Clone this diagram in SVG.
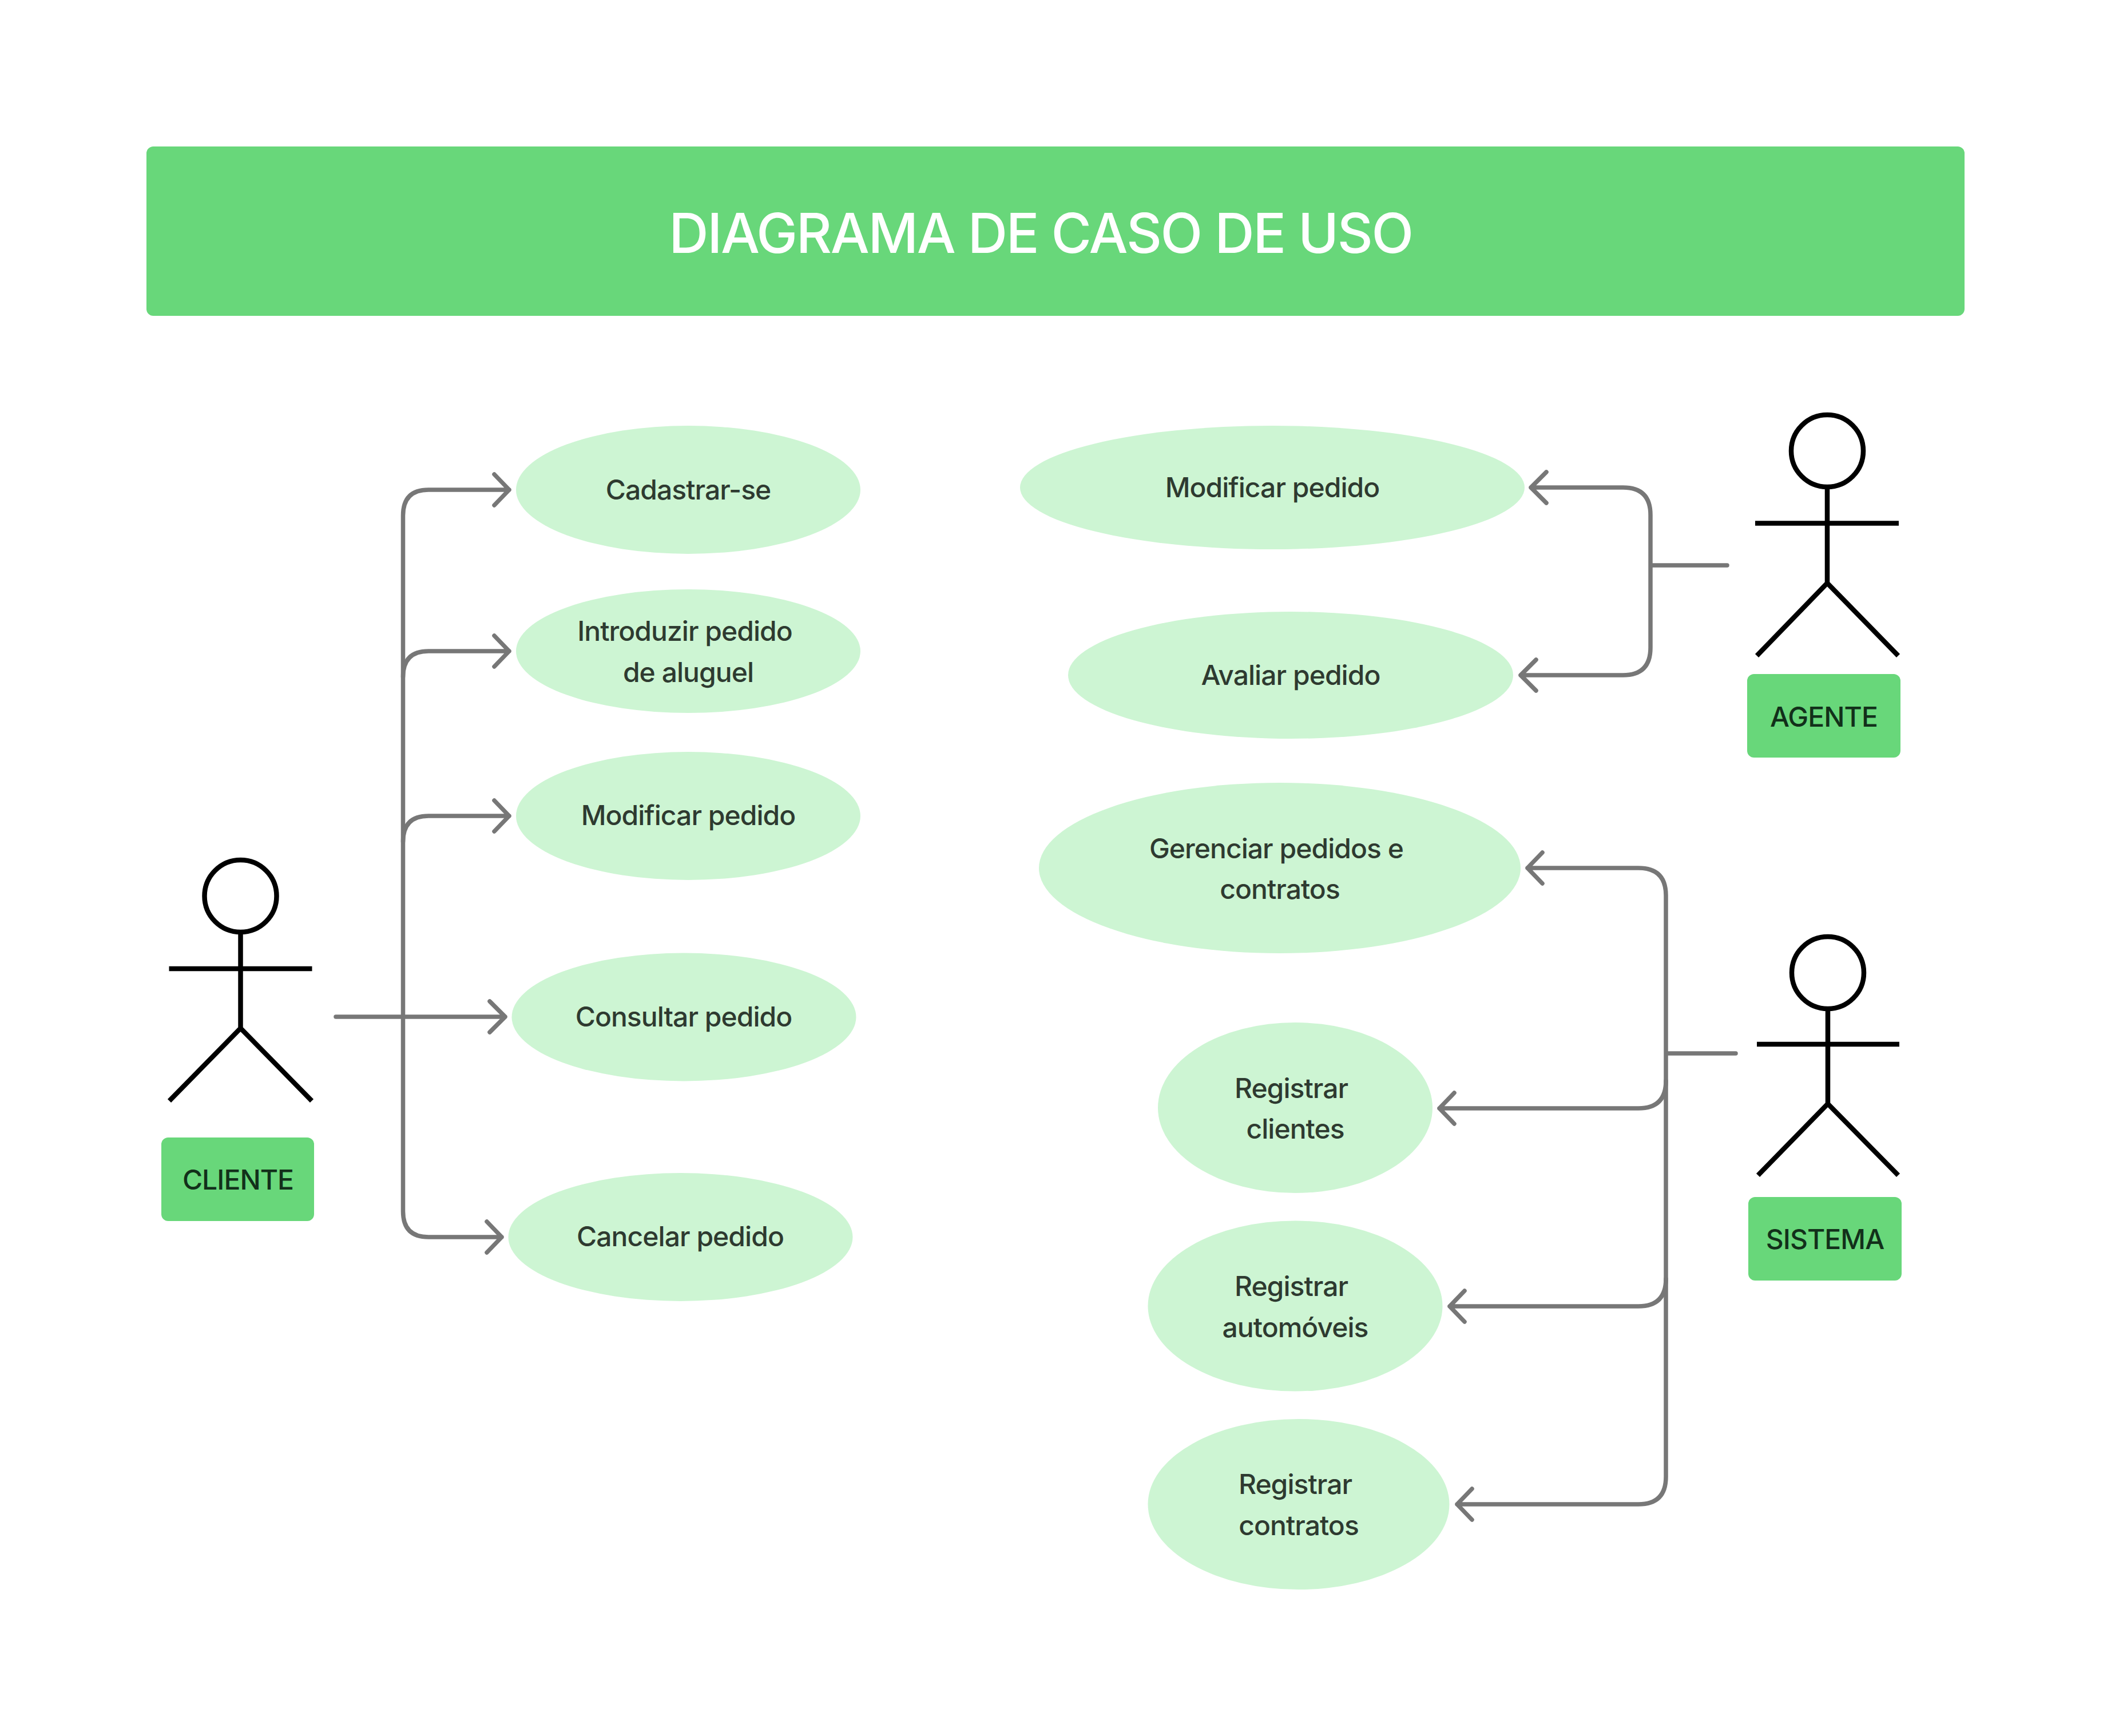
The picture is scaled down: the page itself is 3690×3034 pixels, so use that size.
<svg xmlns="http://www.w3.org/2000/svg" width="3690" height="3034" viewBox="0 0 3690 3034">
<style>
text{font-family:Inter,"Liberation Sans",sans-serif;text-anchor:middle;letter-spacing:-.02em;font-weight:500}
.u{fill:#cdf5d3}
.t{font-size:48px;fill:#2e3a30}
.lb{fill:#68d77a}
.lt{font-size:48px;fill:#12301a}
.h{fill:#fff;stroke:#000;stroke-width:8.500}
.b{fill:none;stroke:#000;stroke-width:8.500;stroke-linejoin:miter}
.c{fill:none;stroke:#777;stroke-width:7.500;stroke-linecap:round;stroke-linejoin:round}
</style>
<rect width="3690" height="3034" fill="#fff"/>
<g id="title"><rect class="lb" x="256" y="256" width="3178" height="296" rx="12"/><text x="1819" y="442" font-size="96" fill="#fff" style="letter-spacing:-.024em">DIAGRAMA DE CASO DE USO</text></g>
<g id="connectors">
<path class="c" d="M587 1777H883M856 1750L883 1777L856 1804"/>
<path class="c" d="M704.500 1777V901Q704.500 856 749 856H890M864 829L890 856L864 883"/>
<path class="c" d="M704.500 1183Q704.500 1138 749 1138H890M864 1111L890 1138L864 1165"/>
<path class="c" d="M704.500 1471Q704.500 1426 749 1426H890M864 1399L890 1426L864 1453"/>
<path class="c" d="M704.500 1777V2117Q704.500 2162 749 2162H877M851 2135L877 2162L851 2189"/>
<path class="c" d="M3019 988H2885M2676 852H2837Q2885 852 2885 900V1132Q2885 1180 2837 1180H2658M2703 825L2676 852L2703 879M2685 1153L2658 1180L2685 1207"/>
<path class="c" d="M3034 1841H2912M2670 1517H2864Q2912 1517 2912 1565V2581Q2912 2629 2864 2629H2547M2696 1490L2670 1517L2696 1544M2573 2602L2547 2629L2573 2656"/>
<path class="c" d="M2912 1889Q2912 1937 2864 1937H2516M2542 1910L2516 1937L2542 1964"/>
<path class="c" d="M2912 2235Q2912 2283 2864 2283H2534M2560 2256L2534 2283L2560 2310"/>
</g>
<g id="actor-cliente"><circle class="h" cx="420.500" cy="1566" r="63"/><path class="b" d="M420.500 1629V1797M295.500 1693H545.500M296 1924L420.500 1797L545 1924"/>
<rect class="lb" x="282" y="1988" width="267" height="146" rx="12"/><text class="lt" x="416" y="2079">CLIENTE</text></g>
<g id="actor-agente"><circle class="h" cx="3194" cy="788" r="63"/><path class="b" d="M3194 851V1019M3068 914.500H3319M3071 1146L3194 1019L3318 1146"/>
<rect class="lb" x="3054" y="1178" width="268" height="146" rx="12"/><text class="lt" x="3188" y="1270">AGENTE</text></g>
<g id="actor-sistema"><circle class="h" cx="3195" cy="1700" r="63"/><path class="b" d="M3195 1763V1929M3071 1825H3320M3073 2054L3195 1929L3318 2054"/>
<rect class="lb" x="3056" y="2092" width="268" height="146" rx="12"/><text class="lt" x="3190" y="2183">SISTEMA</text></g>
<g id="uc-cadastrar"><ellipse class="u" cx="1203" cy="856" rx="301" ry="112"/><text class="t" x="1203" y="873">Cadastrar-se</text></g>
<g id="uc-introduzir"><ellipse class="u" cx="1203" cy="1138" rx="301" ry="108"/><text class="t" x="1197" y="1120">Introduzir pedido</text><text class="t" x="1203" y="1192">de aluguel</text></g>
<g id="uc-modificar1"><ellipse class="u" cx="1203" cy="1426" rx="301" ry="112"/><text class="t" x="1203" y="1442">Modificar pedido</text></g>
<g id="uc-consultar"><ellipse class="u" cx="1195.500" cy="1777.500" rx="301" ry="112"/><text class="t" x="1195" y="1794">Consultar pedido</text></g>
<g id="uc-cancelar"><ellipse class="u" cx="1189.500" cy="2162" rx="301" ry="112"/><text class="t" x="1189" y="2178">Cancelar pedido</text></g>
<g id="uc-modificar2"><ellipse class="u" cx="2224" cy="852" rx="441" ry="108"/><text class="t" x="2224" y="869">Modificar pedido</text></g>
<g id="uc-avaliar"><ellipse class="u" cx="2256" cy="1180" rx="389" ry="111"/><text class="t" x="2256" y="1197">Avaliar pedido</text></g>
<g id="uc-gerenciar"><ellipse class="u" cx="2237" cy="1517" rx="421" ry="149"/><text class="t" x="2231" y="1500">Gerenciar pedidos e</text><text class="t" x="2237" y="1571">contratos</text></g>
<g id="uc-clientes"><ellipse class="u" cx="2264" cy="1936" rx="240" ry="149"/><text class="t" x="2257" y="1919">Registrar</text><text class="t" x="2264" y="1990">clientes</text></g>
<g id="uc-automoveis"><ellipse class="u" cx="2264" cy="2282.500" rx="257.500" ry="149"/><text class="t" x="2257" y="2265">Registrar</text><text class="t" x="2264" y="2337">automóveis</text></g>
<g id="uc-contratos"><ellipse class="u" cx="2270" cy="2629" rx="263.500" ry="149"/><text class="t" x="2264" y="2611">Registrar</text><text class="t" x="2270" y="2683">contratos</text></g>
</svg>
